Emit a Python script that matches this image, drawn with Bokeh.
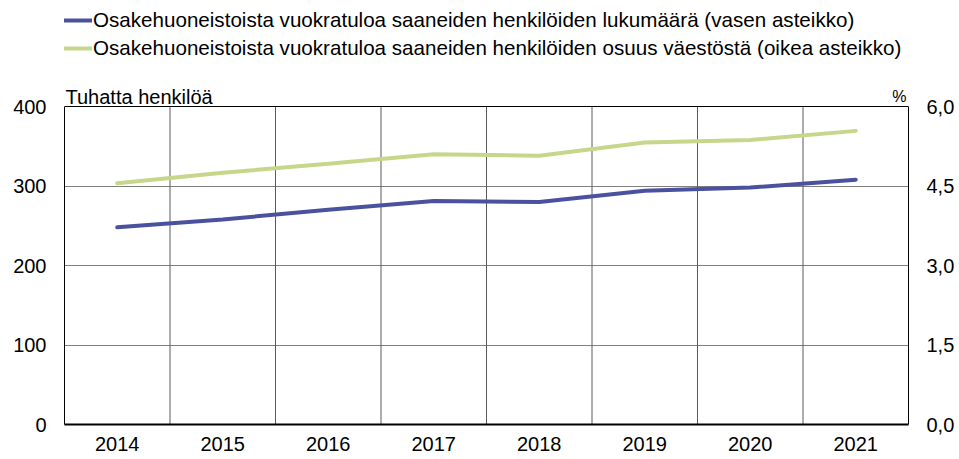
from bokeh.plotting import figure
from bokeh.models import (ColumnDataSource, Range1d, LinearAxis, FixedTicker,
                          CustomJSTickFormatter, Legend, LegendItem, Label, Span)
from bokeh.embed import file_html
from bokeh.resources import INLINE

# ---- data ----
years = [2014, 2015, 2016, 2017, 2018, 2019, 2020, 2021]
count_thousands = [248, 258, 270, 281, 280, 294, 298, 308]   # left axis (thousand persons)
share_pct = [4.55, 4.75, 4.92, 5.10, 5.07, 5.32, 5.37, 5.54]  # right axis (%)
left_ticks = [0, 100, 200, 300, 400]
right_ticks = [0, 1.5, 3.0, 4.5, 6.0]
series_names = [
    "Osakehuoneistoista vuokratuloa saaneiden henkilöiden lukumäärä (vasen asteikko)",
    "Osakehuoneistoista vuokratuloa saaneiden henkilöiden osuus väestöstä (oikea asteikko)",
]
left_title = "Tuhatta henkilöä"
right_title = "%"

FONT = "Liberation Sans, Arial, sans-serif"
BLUE = "#4a52a0"
GREEN = "#c6d78b"

W, H = 959, 459
MB_L, MB_R, MB_B = 64, 51, 35
FRAME_H = H - MB_B            # frame reaches the top of the canvas (legend lives inside it)
BOX_H = 318                   # pixel height of the chart box (0 .. 400)
y_top = left_ticks[-1] * FRAME_H / BOX_H
r_top = right_ticks[-1] * FRAME_H / BOX_H

p = figure(width=W, height=H, output_backend="svg", toolbar_location=None,
           x_range=Range1d(years[0] - 0.5, years[-1] + 0.5),
           y_range=Range1d(left_ticks[0], y_top),
           min_border_left=MB_L, min_border_right=MB_R, min_border_top=0, min_border_bottom=MB_B)
p.background_fill_color = "white"
p.border_fill_color = "white"
p.outline_line_color = None

# x axis
p.xaxis.ticker = FixedTicker(ticks=years)
p.xaxis.axis_line_color = "black"
p.xaxis.axis_line_width = 2
p.xaxis.major_tick_line_color = None
p.xaxis.minor_tick_line_color = None
p.xaxis.major_tick_out = 0
p.xaxis.major_tick_in = 0
p.xaxis.major_label_standoff = 12
p.xaxis.major_label_text_font = FONT
p.xaxis.major_label_text_font_size = "20px"
p.xaxis.major_label_text_color = "black"
p.xgrid.grid_line_color = None

# left axis
p.yaxis.ticker = FixedTicker(ticks=left_ticks)
p.yaxis.bounds = (left_ticks[0], left_ticks[-1])
p.yaxis.axis_line_color = "black"
p.yaxis.major_tick_line_color = None
p.yaxis.minor_tick_line_color = None
p.yaxis.major_tick_out = 0
p.yaxis.major_tick_in = 0
p.yaxis.major_label_standoff = 18
p.yaxis.major_label_text_font = FONT
p.yaxis.major_label_text_font_size = "20px"
p.yaxis.major_label_text_color = "black"

p.ygrid.ticker = FixedTicker(ticks=left_ticks[1:-1])
p.ygrid.grid_line_color = "#808080"
p.ygrid.grid_line_width = 1

# right axis
p.extra_y_ranges = {"pct": Range1d(right_ticks[0], r_top)}
rax = LinearAxis(y_range_name="pct", ticker=FixedTicker(ticks=right_ticks),
                 formatter=CustomJSTickFormatter(code="return tick.toFixed(1).replace('.', ',');"))
rax.bounds = (right_ticks[0], right_ticks[-1])
rax.axis_line_color = "black"
rax.major_tick_line_color = None
rax.minor_tick_line_color = None
rax.major_tick_out = 0
rax.major_tick_in = 0
rax.major_label_standoff = 18
rax.major_label_text_font = FONT
rax.major_label_text_font_size = "20px"
rax.major_label_text_color = "black"
p.add_layout(rax, "right")

# top border of the chart box
p.add_layout(Span(location=left_ticks[-1], dimension="width", line_color="black", line_width=1))

# vertical separators between years
bounds_x = [y + 0.5 for y in years[:-1]]
p.segment(x0=bounds_x, y0=[left_ticks[0]] * len(bounds_x),
          x1=bounds_x, y1=[left_ticks[-1]] * len(bounds_x),
          line_color="#5a5a5a", line_width=1)

r1 = p.line(years, count_thousands, line_color=BLUE, line_width=4, line_cap="round")
r2 = p.line(years, share_pct, y_range_name="pct", line_color=GREEN, line_width=4, line_cap="round")

legend = Legend(items=[LegendItem(label=series_names[0], renderers=[r1]),
                       LegendItem(label=series_names[1], renderers=[r2])],
                location=(0, 364), orientation="vertical", padding=0, margin=0,
                spacing=4, label_height=24, glyph_height=24, glyph_width=28,
                label_standoff=1, border_line_color=None, background_fill_alpha=0,
                label_text_font=FONT, label_text_font_size="20.6px", label_text_color="black")
p.add_layout(legend)

p.add_layout(Label(x=years[0] - 0.5, y=left_ticks[-1], x_offset=1, y_offset=10, text=left_title,
                   text_font=FONT, text_font_size="20px", text_baseline="alphabetic",
                   text_align="left", text_color="black"))
p.add_layout(Label(x=years[-1] + 0.5, y=left_ticks[-1], x_offset=-2, y_offset=10, text=right_title,
                   text_font=FONT, text_font_size="16px", text_baseline="alphabetic",
                   text_align="right", text_color="black"))

open("out.html", "w").write(file_html(p, INLINE))
